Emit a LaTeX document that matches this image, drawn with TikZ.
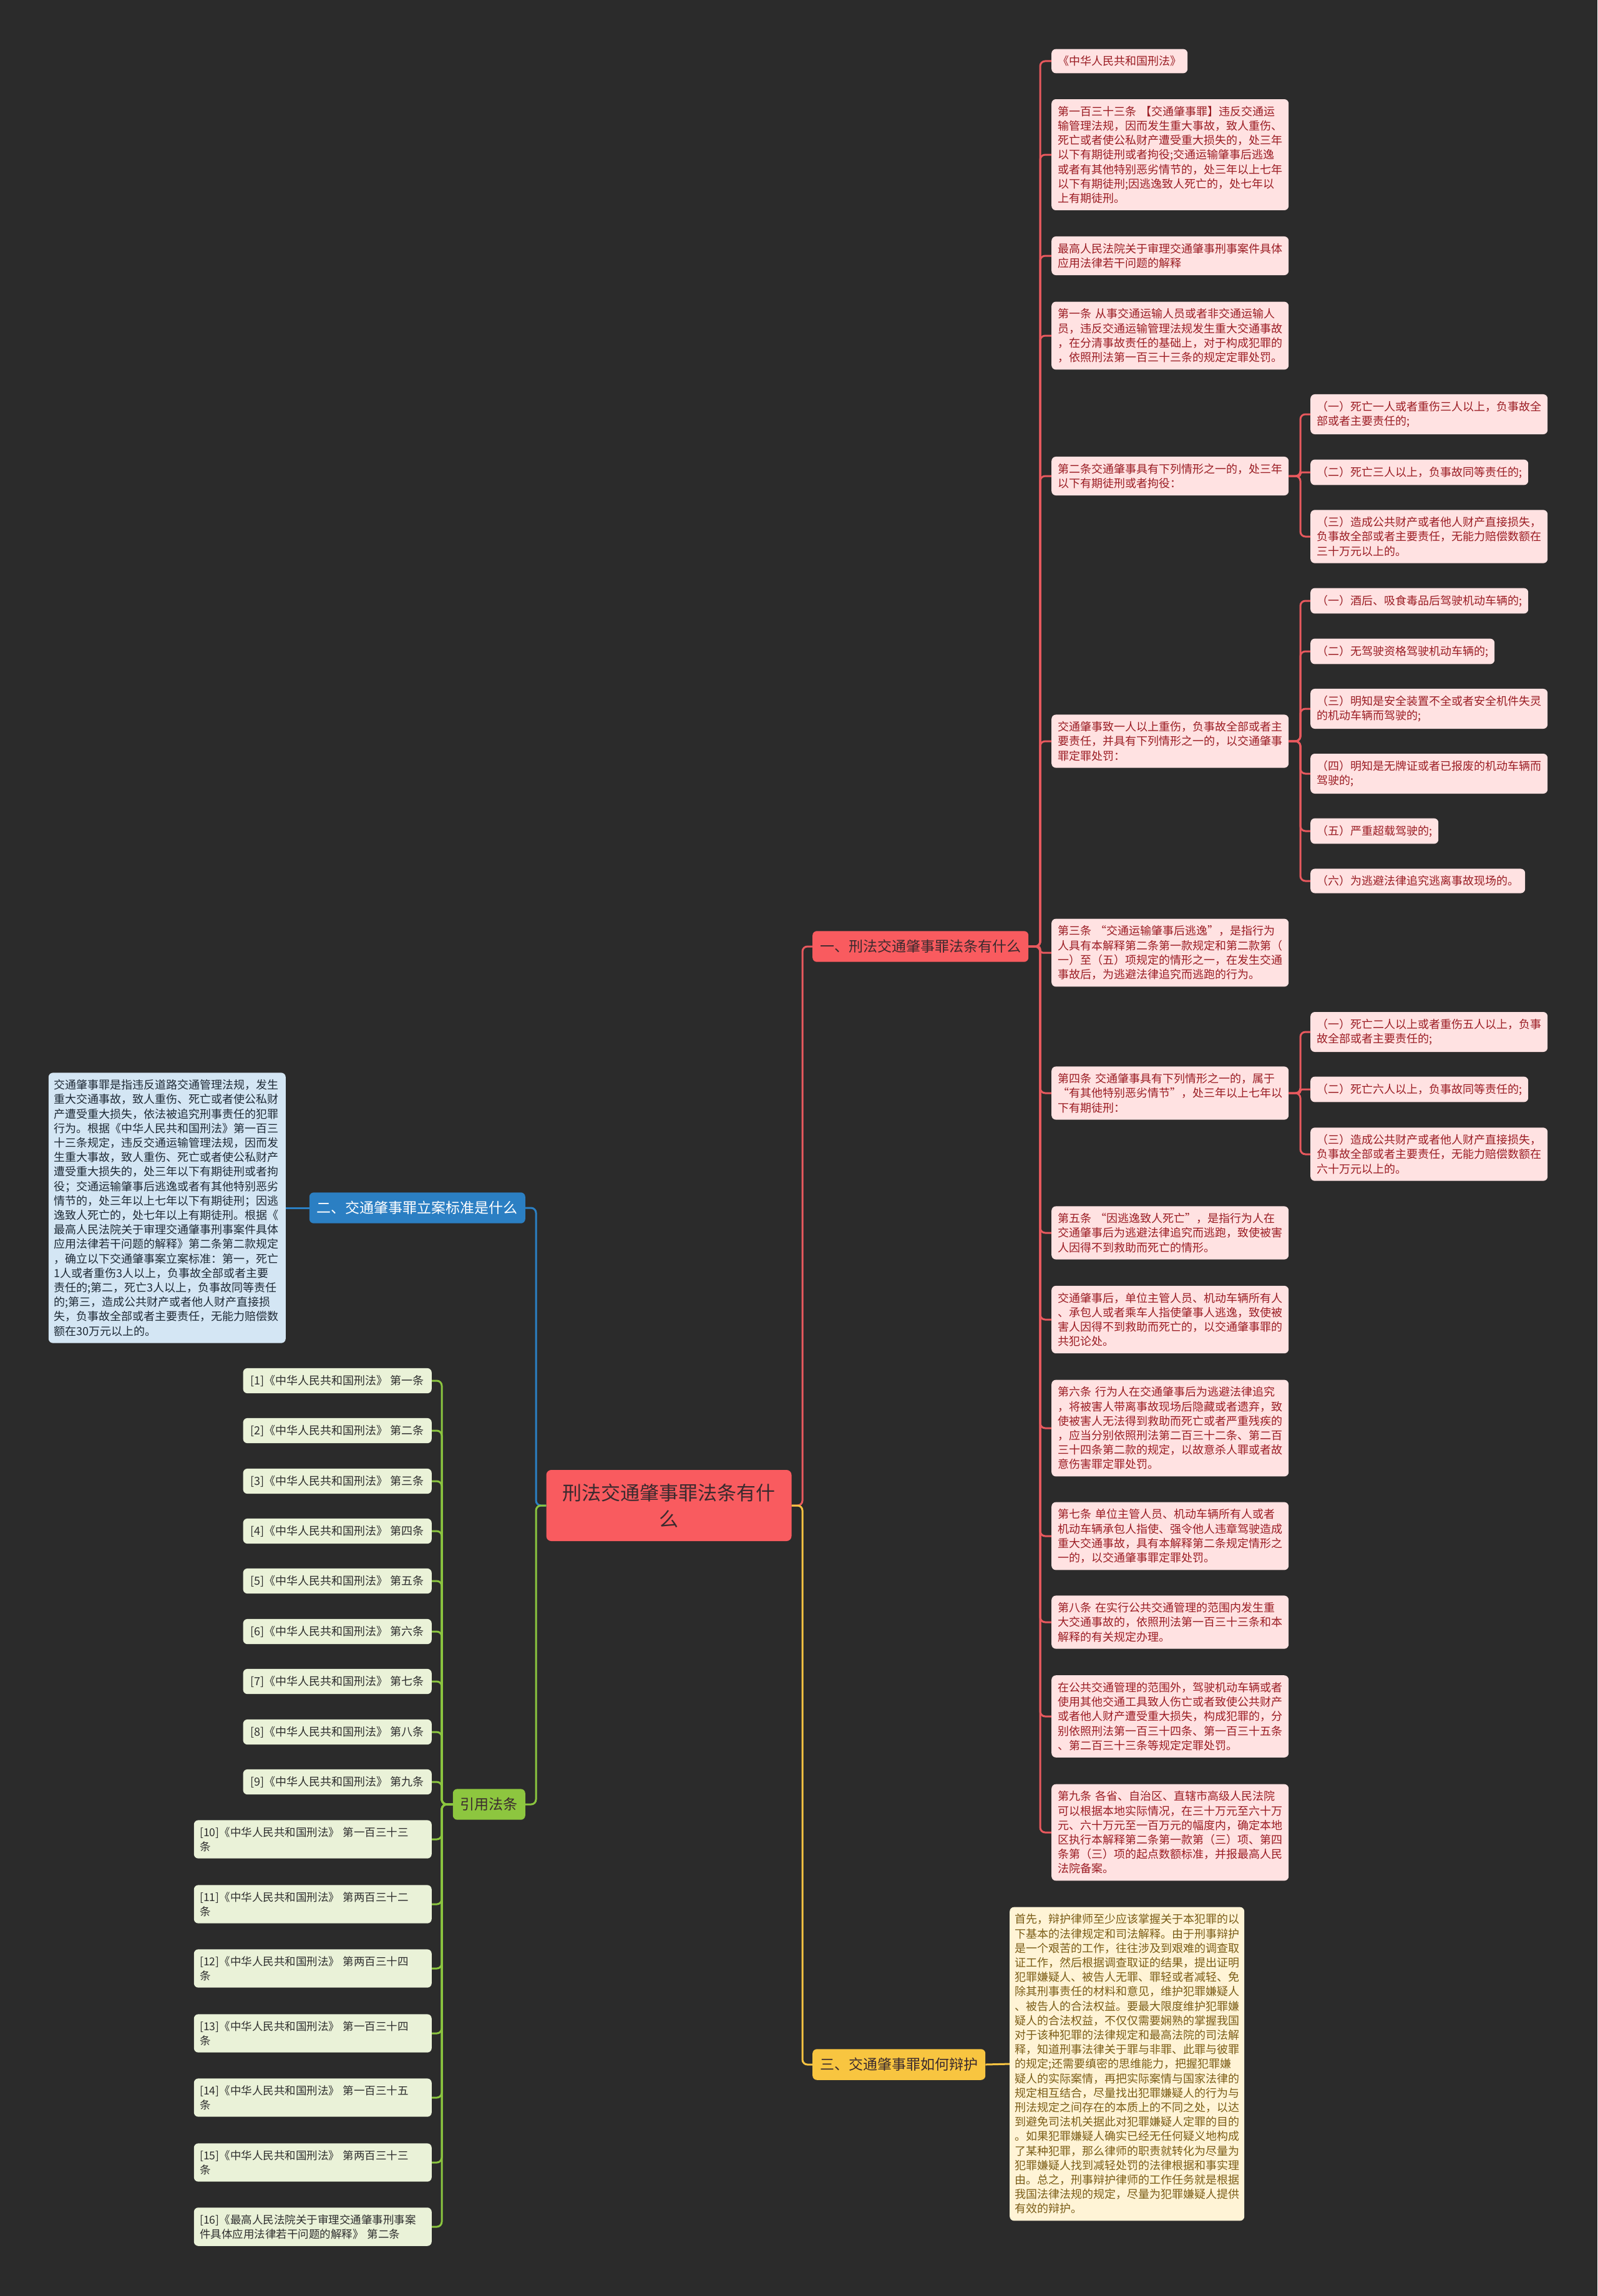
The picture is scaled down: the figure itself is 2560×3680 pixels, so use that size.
\documentclass[tikz,border=0pt]{standalone}
\usepackage{fontspec}
\setmainfont{Noto Sans CJK SC}
\definecolor{bgc}{HTML}{2B2B2B}
\definecolor{rmain}{HTML}{F95B5F}
\definecolor{rlinec}{HTML}{E8595E}
\definecolor{rleafc}{HTML}{FFE2E2}
\definecolor{rtext}{HTML}{9B1D24}
\definecolor{bmain}{HTML}{2B7FC3}
\definecolor{blinec}{HTML}{2B80C4}
\definecolor{bleafc}{HTML}{D4E6F4}
\definecolor{btext}{HTML}{1E2A36}
\definecolor{gmain}{HTML}{8DC63F}
\definecolor{glinec}{HTML}{8BC53F}
\definecolor{gleafc}{HTML}{EAF2D8}
\definecolor{gtext}{HTML}{2E2E2E}
\definecolor{ymain}{HTML}{F8C540}
\definecolor{ylinec}{HTML}{F5C342}
\definecolor{yleafc}{HTML}{FFF4D6}
\definecolor{ytext}{HTML}{7B5D17}
\definecolor{darktext}{HTML}{3A2A2E}
\newcommand\lnk[5][8pt]{\draw[#2,rounded corners=#1] (#3) -- (#3 -| #5) -- (#4 -| #5) -- (#4);}
\begin{document}
\begin{tikzpicture}[x=1pt,y=-1pt,
  leafbase/.style={rounded corners=7pt, inner xsep=10pt, inner ysep=11pt, align=left, font=\fontsize{18}{23.2}\selectfont},
  rleaf/.style={leafbase, fill=rleafc, text=rtext},
  rwide/.style={rleaf, text width=360pt},
  bwide/.style={leafbase, fill=bleafc, text=btext, text width=362pt, inner xsep=9pt},
  gleaf/.style={leafbase, fill=gleafc, text=gtext, font=\fontsize{18}{23.2}\selectfont, inner xsep=12pt},
  gwide/.style={gleaf, font=\fontsize{17.5}{23.2}\selectfont, text width=362pt, inner xsep=9.5pt},
  ywide/.style={leafbase, fill=yleafc, text=ytext, text width=360pt, inner xsep=8pt},
  topic/.style={rounded corners=7pt, inner xsep=12pt, inner ysep=14pt, font=\fontsize{23}{28}\selectfont},
  rootbox/.style={rounded corners=8pt, fill=rmain, text=darktext, align=center, font=\fontsize{31}{42}\selectfont, minimum width=393pt, minimum height=114pt},
  rln/.style={draw=rlinec, line width=3pt},
  bln/.style={draw=blinec, line width=3pt},
  gln/.style={draw=glinec, line width=3pt},
  yln/.style={draw=ylinec, line width=3pt}]
\fill[bgc] (0,0) rectangle (2560,3680);
\useasboundingbox (0,0) rectangle (2560,3680);
\coordinate (sL) at (859,0);
\coordinate (sR) at (1286,0);
\coordinate (sR2) at (1667,0);
\coordinate (sR3) at (2084,0);
\coordinate (sG) at (708,0);
% root and topics
\node[rootbox] (root) at (1072,2413) {刑法交通肇事罪法条有什\\么};
\node[topic, fill=rmain, text=darktext, anchor=west] (one) at (1302,1517) {一、刑法交通肇事罪法条有什么};
\node[topic, fill=bmain, text=white, anchor=east] (two) at (842,1936) {二、交通肇事罪立案标准是什么};
\node[topic, fill=ymain, text=darktext, anchor=west] (three) at (1302,3309) {三、交通肇事罪如何辩护};
\node[topic, fill=gmain, text=darktext, anchor=east] (cite) at (842,2892) {引用法条};
% red level 2
\node[rleaf, anchor=west] (n1) at (1685,98) {《中华人民共和国刑法》};
\node[rwide, anchor=west] (n2) at (1685,248) {第一百三十三条~【交通肇事罪】违反交通运\\输管理法规，因而发生重大事故，致人重伤、\\死亡或者使公私财产遭受重大损失的，处三年\\以下有期徒刑或者拘役;交通运输肇事后逃逸\\或者有其他特别恶劣情节的，处三年以上七年\\以下有期徒刑;因逃逸致人死亡的，处七年以\\上有期徒刑。};
\node[rwide, anchor=west] (n3) at (1685,410) {最高人民法院关于审理交通肇事刑事案件具体\\应用法律若干问题的解释};
\node[rwide, anchor=west] (n4) at (1685,538) {第一条~从事交通运输人员或者非交通运输人\\员，违反交通运输管理法规发生重大交通事故\\，在分清事故责任的基础上，对于构成犯罪的\\，依照刑法第一百三十三条的规定定罪处罚。};
\node[rwide, anchor=west] (n5) at (1685,763) {第二条交通肇事具有下列情形之一的，处三年\\以下有期徒刑或者拘役：};
\node[rwide, anchor=west] (n6) at (1685,1188) {交通肇事致一人以上重伤，负事故全部或者主\\要责任，并具有下列情形之一的，以交通肇事\\罪定罪处罚：};
\node[rwide, anchor=west] (n7) at (1685,1527) {第三条~“交通运输肇事后逃逸”，是指行为\\人具有本解释第二条第一款规定和第二款第（\\一）至（五）项规定的情形之一，在发生交通\\事故后，为逃避法律追究而逃跑的行为。};
\node[rwide, anchor=west] (n8) at (1685,1752) {第四条~交通肇事具有下列情形之一的，属于\\“有其他特别恶劣情节”，处三年以上七年以\\下有期徒刑：};
\node[rwide, anchor=west] (n9) at (1685,1976) {第五条~“因逃逸致人死亡”，是指行为人在\\交通肇事后为逃避法律追究而逃跑，致使被害\\人因得不到救助而死亡的情形。};
\node[rwide, anchor=west] (n10) at (1685,2115) {交通肇事后，单位主管人员、机动车辆所有人\\、承包人或者乘车人指使肇事人逃逸，致使被\\害人因得不到救助而死亡的，以交通肇事罪的\\共犯论处。};
\node[rwide, anchor=west] (n11) at (1685,2289) {第六条~行为人在交通肇事后为逃避法律追究\\，将被害人带离事故现场后隐藏或者遗弃，致\\使被害人无法得到救助而死亡或者严重残疾的\\，应当分别依照刑法第二百三十二条、第二百\\三十四条第二款的规定，以故意杀人罪或者故\\意伤害罪定罪处罚。};
\node[rwide, anchor=west] (n12) at (1685,2462) {第七条~单位主管人员、机动车辆所有人或者\\机动车辆承包人指使、强令他人违章驾驶造成\\重大交通事故，具有本解释第二条规定情形之\\一的，以交通肇事罪定罪处罚。};
\node[rwide, anchor=west] (n13) at (1685,2600) {第八条~在实行公共交通管理的范围内发生重\\大交通事故的，依照刑法第一百三十三条和本\\解释的有关规定办理。};
\node[rwide, anchor=west] (n14) at (1685,2751) {在公共交通管理的范围外，驾驶机动车辆或者\\使用其他交通工具致人伤亡或者致使公共财产\\或者他人财产遭受重大损失，构成犯罪的，分\\别依照刑法第一百三十四条、第一百三十五条\\、第二百三十三条等规定定罪处罚。};
\node[rwide, anchor=west] (n15) at (1685,2937) {第九条~各省、自治区、直辖市高级人民法院\\可以根据本地实际情况，在三十万元至六十万\\元、六十万元至一百万元的幅度内，确定本地\\区执行本解释第二条第一款第（三）项、第四\\条第（三）项的起点数额标准，并报最高人民\\法院备案。};
% red level 3
\node[rwide, anchor=west] (n5a) at (2100,664) {（一）死亡一人或者重伤三人以上，负事故全\\部或者主要责任的;};
\node[rleaf, anchor=west] (n5b) at (2100,757) {（二）死亡三人以上，负事故同等责任的;};
\node[rwide, anchor=west] (n5c) at (2100,860) {（三）造成公共财产或者他人财产直接损失，\\负事故全部或者主要责任，无能力赔偿数额在\\三十万元以上的。};
\node[rleaf, anchor=west] (n6a) at (2100,963) {（一）酒后、吸食毒品后驾驶机动车辆的;};
\node[rleaf, anchor=west] (n6b) at (2100,1044) {（二）无驾驶资格驾驶机动车辆的;};
\node[rwide, anchor=west] (n6c) at (2100,1136) {（三）明知是安全装置不全或者安全机件失灵\\的机动车辆而驾驶的;};
\node[rwide, anchor=west] (n6d) at (2100,1240) {（四）明知是无牌证或者已报废的机动车辆而\\驾驶的;};
\node[rleaf, anchor=west] (n6e) at (2100,1332) {（五）严重超载驾驶的;};
\node[rleaf, anchor=west] (n6f) at (2100,1412) {（六）为逃避法律追究逃离事故现场的。};
\node[rwide, anchor=west] (n8a) at (2100,1654) {（一）死亡二人以上或者重伤五人以上，负事\\故全部或者主要责任的;};
\node[rleaf, anchor=west] (n8b) at (2100,1746) {（二）死亡六人以上，负事故同等责任的;};
\node[rwide, anchor=west] (n8c) at (2100,1850) {（三）造成公共财产或者他人财产直接损失，\\负事故全部或者主要责任，无能力赔偿数额在\\六十万元以上的。};
% blue child
\node[bwide, anchor=east] (bchild) at (458,1936) {交通肇事罪是指违反道路交通管理法规，发生\\重大交通事故，致人重伤、死亡或者使公私财\\产遭受重大损失，依法被追究刑事责任的犯罪\\行为。根据《中华人民共和国刑法》第一百三\\十三条规定，违反交通运输管理法规，因而发\\生重大事故，致人重伤、死亡或者使公私财产\\遭受重大损失的，处三年以下有期徒刑或者拘\\役；交通运输肇事后逃逸或者有其他特别恶劣\\情节的，处三年以上七年以下有期徒刑；因逃\\逸致人死亡的，处七年以上有期徒刑。根据《\\最高人民法院关于审理交通肇事刑事案件具体\\应用法律若干问题的解释》第二条第二款规定\\，确立以下交通肇事案立案标准：第一，死亡\\1人或者重伤3人以上，负事故全部或者主要\\责任的;第二，死亡3人以上，负事故同等责任\\的;第三，造成公共财产或者他人财产直接损\\失，负事故全部或者主要责任，无能力赔偿数\\额在30万元以上的。};
% yellow child
\node[ywide, anchor=west] (ychild) at (1618,3308) {首先，辩护律师至少应该掌握关于本犯罪的以\\下基本的法律规定和司法解释。由于刑事辩护\\是一个艰苦的工作，往往涉及到艰难的调查取\\证工作，然后根据调查取证的结果，提出证明\\犯罪嫌疑人、被告人无罪、罪轻或者减轻、免\\除其刑事责任的材料和意见，维护犯罪嫌疑人\\、被告人的合法权益。要最大限度维护犯罪嫌\\疑人的合法权益，不仅仅需要娴熟的掌握我国\\对于该种犯罪的法律规定和最高法院的司法解\\释，知道刑事法律关于罪与非罪、此罪与彼罪\\的规定;还需要缜密的思维能力，把握犯罪嫌\\疑人的实际案情，再把实际案情与国家法律的\\规定相互结合，尽量找出犯罪嫌疑人的行为与\\刑法规定之间存在的本质上的不同之处，以达\\到避免司法机关据此对犯罪嫌疑人定罪的目的\\。如果犯罪嫌疑人确实已经无任何疑义地构成\\了某种犯罪，那么律师的职责就转化为尽量为\\犯罪嫌疑人找到减轻处罚的法律根据和事实理\\由。总之，刑事辩护律师的工作任务就是根据\\我国法律法规的规定，尽量为犯罪嫌疑人提供\\有效的辩护。};
% green children
\node[gleaf, anchor=east] (c1) at (692,2213) {[1]《中华人民共和国刑法》~第一条};
\node[gleaf, anchor=east] (c2) at (692,2293) {[2]《中华人民共和国刑法》~第二条};
\node[gleaf, anchor=east] (c3) at (692,2374) {[3]《中华人民共和国刑法》~第三条};
\node[gleaf, anchor=east] (c4) at (692,2454) {[4]《中华人民共和国刑法》~第四条};
\node[gleaf, anchor=east] (c5) at (692,2534) {[5]《中华人民共和国刑法》~第五条};
\node[gleaf, anchor=east] (c6) at (692,2615) {[6]《中华人民共和国刑法》~第六条};
\node[gleaf, anchor=east] (c7) at (692,2695) {[7]《中华人民共和国刑法》~第七条};
\node[gleaf, anchor=east] (c8) at (692,2776) {[8]《中华人民共和国刑法》~第八条};
\node[gleaf, anchor=east] (c9) at (692,2856) {[9]《中华人民共和国刑法》~第九条};
\node[gwide, anchor=east] (c10) at (692,2948) {[10]《中华人民共和国刑法》~第一百三十三\\条};
\node[gwide, anchor=east] (c11) at (692,3052) {[11]《中华人民共和国刑法》~第两百三十二\\条};
\node[gwide, anchor=east] (c12) at (692,3155) {[12]《中华人民共和国刑法》~第两百三十四\\条};
\node[gwide, anchor=east] (c13) at (692,3259) {[13]《中华人民共和国刑法》~第一百三十四\\条};
\node[gwide, anchor=east] (c14) at (692,3362) {[14]《中华人民共和国刑法》~第一百三十五\\条};
\node[gwide, anchor=east] (c15) at (692,3466) {[15]《中华人民共和国刑法》~第两百三十三\\条};
\node[gwide, anchor=east] (c16) at (692,3569) {[16]《最高人民法院关于审理交通肇事刑事案\\件具体应用法律若干问题的解释》~第二条};
% connectors: root
\lnk{bln}{root.west}{two.east}{sL}
\lnk{gln}{root.west}{cite.east}{sL}
\lnk{rln}{root.east}{one.west}{sR}
\lnk{yln}{root.east}{three.west}{sR}
% red level 2
\foreach \k in {1,2,3,4,5,6,8,9,10,11,12,13,14,15}{\lnk{rln}{one.east}{n\k.west}{sR2}}
\lnk[4pt]{rln}{one.east}{n7.west}{sR2}
% red level 3
\lnk{rln}{n5.east}{n5a.west}{sR3}
\lnk[3pt]{rln}{n5.east}{n5b.west}{sR3}
\lnk{rln}{n5.east}{n5c.west}{sR3}
\foreach \k in {a,b,c,d,e,f}{\lnk{rln}{n6.east}{n6\k.west}{sR3}}
\lnk{rln}{n8.east}{n8a.west}{sR3}
\lnk[3pt]{rln}{n8.east}{n8b.west}{sR3}
\lnk{rln}{n8.east}{n8c.west}{sR3}
% green
\foreach \k in {1,...,16}{\lnk{gln}{cite.west}{c\k.east}{sG}}
% straight ones
\draw[bln] (two.west) -- (bchild.east);
\draw[yln] (three.east) -- (ychild.west);
\end{tikzpicture}
\end{document}
